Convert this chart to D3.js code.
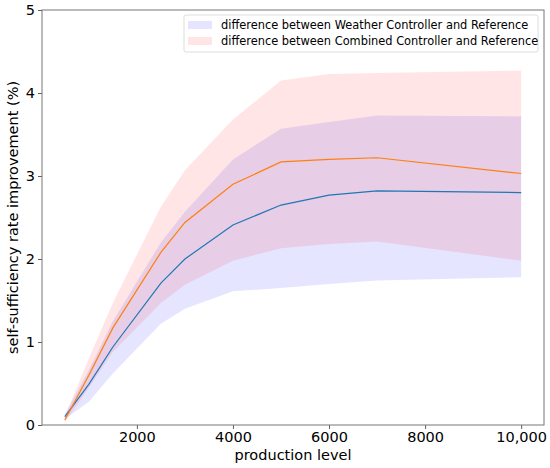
<!DOCTYPE html>
<html><head><meta charset="utf-8">
<script src="https://cdn.jsdelivr.net/npm/d3@7"></script>
<style>
html,body{margin:0;padding:0;background:#fff;}
text{font-family:"DejaVu Sans",sans-serif;fill:#000;}
</style></head>
<body>
<svg id="c" width="550" height="468"></svg>
<script>
const productionLevels = [500, 1000, 1500, 2500, 3000, 4000, 5000, 6000, 7000, 10000];
const weatherMean  = [0.10, 0.49, 0.94, 1.71, 2.00, 2.41, 2.65, 2.77, 2.82, 2.80];
const combinedMean = [0.06, 0.60, 1.17, 2.08, 2.44, 2.90, 3.17, 3.20, 3.22, 3.03];
const weatherUpper = [0.13, 0.66, 1.25, 2.20, 2.57, 3.20, 3.57, 3.65, 3.73, 3.72];
const weatherLower = [0.07, 0.28, 0.62, 1.22, 1.40, 1.61, 1.65, 1.70, 1.74, 1.78];
const combinedUpper = [0.10, 0.80, 1.47, 2.63, 3.07, 3.68, 4.15, 4.23, 4.24, 4.27];
const combinedLower = [0.03, 0.45, 0.88, 1.47, 1.69, 1.98, 2.13, 2.18, 2.21, 1.98];
const xTicks = [2000, 4000, 6000, 8000, 10000];
const xTickLabels = ["2000", "4000", "6000", "8000", "10,000"];
const yTicks = [0, 1, 2, 3, 4, 5];
const legendLabels = ["difference between Weather Controller and Reference",
                      "difference between Combined Controller and Reference"];

const svg = d3.select("#c");
const L = 42, R = 544, T = 10, B = 425;
const x = d3.scaleLinear().domain([25, 10475]).range([L, R]);
const y = d3.scaleLinear().domain([0, 5]).range([B, T]);

const area = (lo, hi) => d3.area()
  .x((d, i) => x(productionLevels[i]))
  .y0((d, i) => y(lo[i]))
  .y1((d, i) => y(hi[i]));
const line = vals => d3.line()
  .x((d, i) => x(productionLevels[i]))
  .y((d, i) => y(vals[i]));

svg.append("path").datum(productionLevels).attr("d", area(weatherLower, weatherUpper))
  .attr("fill", "blue").attr("fill-opacity", 0.1);
svg.append("path").datum(productionLevels).attr("d", area(combinedLower, combinedUpper))
  .attr("fill", "red").attr("fill-opacity", 0.1);
svg.append("path").datum(productionLevels).attr("d", line(weatherMean))
  .attr("fill", "none").attr("stroke", "#1f77b4").attr("stroke-width", 1.2);
svg.append("path").datum(productionLevels).attr("d", line(combinedMean))
  .attr("fill", "none").attr("stroke", "#ff7f0e").attr("stroke-width", 1.2);

// axes
const xAxis = d3.axisBottom(x).tickValues(xTicks).tickFormat((d, i) => xTickLabels[i]).tickSize(4).tickSizeOuter(0).tickPadding(3);
const gx = svg.append("g").attr("transform", `translate(0,${B})`).call(xAxis);
const yAxis = d3.axisLeft(y).tickValues(yTicks).tickFormat(d3.format("d")).tickSize(4).tickSizeOuter(0).tickPadding(3);
const gy = svg.append("g").attr("transform", `translate(${L},0)`).call(yAxis);
[gx, gy].forEach(g => {
  g.select(".domain").remove();
  g.selectAll(".tick line").attr("stroke", "#333").attr("stroke-width", 0.8);
  g.selectAll(".tick text").style("font-size", "14.5px").style("font-family", "DejaVu Sans").attr("fill", "#000");
});

// frame
svg.append("rect").attr("x", L).attr("y", T).attr("width", R - L).attr("height", B - T)
  .attr("fill", "none").attr("stroke", "#777").attr("stroke-width", 1);

// axis labels
svg.append("text").attr("x", (L + R) / 2).attr("y", 460).attr("text-anchor", "middle")
  .style("font-size", "14.5px").text("production level");
svg.append("text").attr("transform", `translate(13,${(T + B) / 2}) rotate(-90)`)
  .attr("text-anchor", "middle").attr("dy", "0.35em")
  .style("font-size", "14.5px").text("self-sufficiency rate improvement (%)");

// legend
const lg = svg.append("g");
lg.append("rect").attr("x", 184).attr("y", 15).attr("width", 354).attr("height", 37)
  .attr("rx", 2).attr("fill", "#fff").attr("fill-opacity", 0.8).attr("stroke", "#ddd").attr("stroke-width", 1);
const legendColors = ["blue", "red"];
legendLabels.forEach((lab, i) => {
  const cy = 25 + i * 16;
  lg.append("rect").attr("x", 188).attr("y", cy - 4).attr("width", 24).attr("height", 8)
    .attr("fill", legendColors[i]).attr("fill-opacity", 0.1);
  lg.append("text").attr("x", 221).attr("y", cy).attr("dy", "0.35em")
    .style("font-size", "11.4px").text(lab);
});
</script>
</body></html>
